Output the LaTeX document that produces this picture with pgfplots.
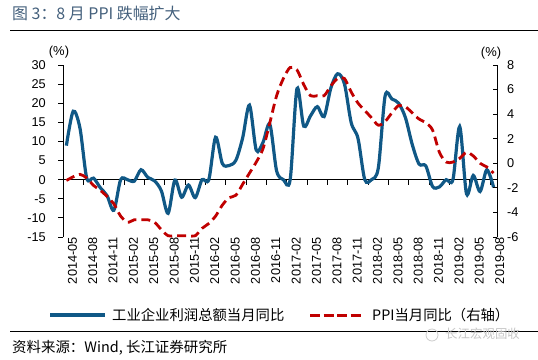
\documentclass[border=0pt]{standalone}
\usepackage{pgfplots}
\usepackage{pgfplotstable}
\pgfplotsset{compat=1.18}
\usepackage{fontspec}
\setmainfont{Liberation Sans}
\newfontfamily\cjk{Noto Sans CJK SC}
\definecolor{bl}{RGB}{16,88,134}
\definecolor{rd}{RGB}{192,0,0}
\definecolor{tt}{RGB}{68,96,124}
\pgfplotstableread{
i v
0 8.9
1 17.9
2 13.5
3 0.4
4 0.4
5 -2.1
6 -4.2
7 -8.0
8 0
9 0
10 -0.4
11 2.6
12 0.6
13 -0.3
14 -2.9
15 -8.8
16 -0.1
17 -4.6
18 -1.4
19 -4.7
20 0
21 0
22 11.1
23 4.2
24 3.7
25 5.1
26 11.0
27 19.5
28 7.7
29 9.8
30 14.5
31 2.3
32 0
33 0
34 23.8
35 14.0
36 16.7
37 19.1
38 16.5
39 24.0
40 27.7
41 25.1
42 14.9
43 10.8
44 0
45 0
46 3.1
47 21.9
48 21.1
49 20.0
50 16.2
51 9.2
52 4.1
53 3.6
54 -1.8
55 -1.9
56 0
57 0
58 13.9
59 -3.7
60 1.1
61 -3.1
62 2.6
63 -2.0
}\profit
\pgfplotstableread{
i v
0 -1.4
1 -1.1
2 -0.9
3 -1.2
4 -1.8
5 -2.2
6 -2.7
7 -3.3
8 -4.3
9 -4.8
10 -4.6
11 -4.6
12 -4.6
13 -4.8
14 -5.4
15 -5.9
16 -5.9
17 -5.9
18 -5.9
19 -5.9
20 -5.3
21 -4.9
22 -4.3
23 -3.4
24 -2.8
25 -2.6
26 -1.7
27 -0.8
28 0.1
29 1.2
30 3.3
31 5.5
32 6.9
33 7.8
34 7.6
35 6.4
36 5.5
37 5.5
38 5.5
39 6.3
40 6.9
41 6.9
42 5.8
43 4.9
44 4.3
45 3.7
46 3.1
47 3.4
48 4.1
49 4.7
50 4.6
51 4.1
52 3.6
53 3.3
54 2.7
55 0.9
56 0.1
57 0.1
58 0.4
59 0.9
60 0.6
61 0.0
62 -0.3
63 -0.8
}\ppi
\begin{document}
\begin{tikzpicture}[x=1bp,y=1bp]
\path[use as bounding box] (0,0) rectangle (538,359);
\begin{axis}[
  at={(63bp,122bp)}, anchor=south west, scale only axis,
  width=434bp, height=172bp,
  xmin=-0.5, xmax=63.5, ymin=-15, ymax=30,
  axis x line*=middle, axis y line*=left,
  axis line style={black, line width=0.9bp},
  xtick={-0.5,2.5,...,62.5}, xticklabels={},
  ytick={-15,-10,...,30},
  yticklabels={-15,-10,-5,0,5,10,15,20,25,30},
  tick align=outside, major tick length=5bp,
  tick style={black, line width=0.9bp},
  yticklabel style={font=\fontsize{12.8}{14}\selectfont, inner sep=0pt, anchor=east, xshift=-12bp},
  clip=false,
]
\addplot[bl, line width=3.2bp, smooth, tension=0.5] table[x=i,y=v]{\profit};
\end{axis}
\begin{axis}[
  at={(63bp,122bp)}, anchor=south west, scale only axis,
  width=434bp, height=172bp,
  xmin=-0.5, xmax=63.5, ymin=-6, ymax=8,
  axis x line*=bottom, axis y line*=right,
  x axis line style={draw=none},
  y axis line style={black, line width=0.9bp},
  xtick={0,3,...,63},
  xticklabels={2014-05,2014-08,2014-11,2015-02,2015-05,2015-08,2015-11,2016-02,2016-05,2016-08,2016-11,2017-02,2017-05,2017-08,2017-11,2018-02,2018-05,2018-08,2018-11,2019-02,2019-05,2019-08},
  x tick style={draw=none},
  ytick={-6,-4,...,8},
  yticklabels={-6,-4,-2,0,2,4,6,8},
  y tick style={black, line width=0.9bp},
  tick align=inside, major tick length=4bp,
  xticklabel style={font=\fontsize{12.8}{14}\selectfont, rotate=90, anchor=east, inner sep=0pt, yshift=-6bp},
  yticklabel style={font=\fontsize{12.8}{14}\selectfont, anchor=west, inner sep=0pt, xshift=10bp},
  clip=false,
]
\addplot[rd, line width=2.8bp, smooth, tension=0.5, dash pattern=on 9bp off 5bp] table[x=i,y=v]{\ppi};
\end{axis}
% title and rules
\node[anchor=west, inner sep=0, text=tt] at (12,346) {\cjk\fontsize{16}{18}\selectfont 图 3：8 月 PPI 跌幅扩大};
\draw[line width=0.9bp] (10,329) -- (538,329);
\node[inner sep=0] at (59,307) {\fontsize{13}{15}\selectfont (\%)};
\node[inner sep=0] at (491,306) {\fontsize{13}{15}\selectfont (\%)};
% legend
\draw[bl, line width=3.2bp] (50,44) -- (105,44);
\node[anchor=west, inner sep=0] at (112,44) {\cjk\fontsize{14.4}{16}\selectfont 工业企业利润总额当月同比};
\draw[rd, line width=3bp, dash pattern=on 10bp off 3.5bp] (310,44) -- (362,44);
\node[anchor=west, inner sep=0] at (372,44) {\cjk\fontsize{14.4}{16}\selectfont PPI当月同比（右轴）};
% footer
\draw[line width=0.9bp] (10,28) -- (538,28);
\node[anchor=west, inner sep=0] at (12,11) {\cjk\fontsize{14.5}{16}\selectfont 资料来源：Wind, 长江证券研究所};
\draw[gray!40, line width=0.8bp] (432,24) circle (6);
\node[anchor=west, inner sep=0, text=gray!45] at (445,25) {\cjk\fontsize{12.5}{14}\selectfont 长江宏观固收};
\end{tikzpicture}
\end{document}
